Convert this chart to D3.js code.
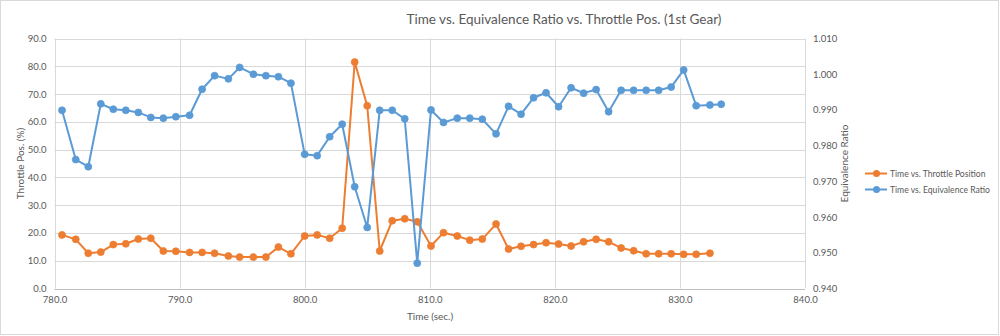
<!DOCTYPE html>
<html>
<head>
<meta charset="utf-8">
<script src="https://cdn.jsdelivr.net/npm/d3@7"></script>
<style>
  html, body { margin: 0; padding: 0; background: #fff; }
  svg { display: block; font-family: Lato, "Liberation Sans", sans-serif; }
</style>
</head>
<body>
<svg id="chart" width="1000" height="336"></svg>
<script>
// ---- data ----
const times = [780.6, 781.7, 782.7, 783.7, 784.7, 785.7, 786.7, 787.7, 788.7, 789.7,
  790.8, 791.8, 792.8, 793.9, 794.8, 795.9, 796.9, 797.9, 798.9, 800.0,
  801.0, 802.0, 803.0, 804.0, 805.0, 806.0, 807.0, 808.0, 809.0, 810.1,
  811.1, 812.2, 813.2, 814.2, 815.3, 816.3, 817.3, 818.3, 819.3, 820.3,
  821.3, 822.3, 823.3, 824.3, 825.3, 826.3, 827.3, 828.3, 829.3, 830.3,
  831.3, 832.4, 833.3];
const throttle = [19.3, 17.7, 12.7, 13.1, 15.8, 16.1, 17.8, 18.1, 13.5, 13.4,
  13.0, 13.0, 12.7, 11.7, 11.3, 11.3, 11.3, 14.9, 12.5, 18.9,
  19.3, 18.1, 21.7, 81.5, 65.8, 13.5, 24.4, 25.1, 24.0, 15.3,
  20.1, 18.9, 17.4, 17.8, 23.2, 14.2, 15.2, 15.8, 16.5, 16.0,
  15.3, 16.8, 17.7, 16.8, 14.6, 13.6, 12.5, 12.5, 12.5, 12.3,
  12.3, 12.7];
const equiv = [0.9899, 0.9761, 0.9741, 0.9917, 0.9902, 0.9899, 0.9893, 0.9879, 0.9877, 0.9881,
  0.9885, 0.9958, 0.9996, 0.9987, 1.0019, 1.0000, 0.9996, 0.9993, 0.9975, 0.9776,
  0.9772, 0.9825, 0.9860, 0.9685, 0.9571, 0.9899, 0.9899, 0.9875, 0.9471, 0.9900,
  0.9865, 0.9877, 0.9877, 0.9874, 0.9833, 0.9910, 0.9888, 0.9934, 0.9948, 0.9909,
  0.9962, 0.9947, 0.9957, 0.9895, 0.9955, 0.9955, 0.9955, 0.9955, 0.9964, 1.0012,
  0.9912, 0.9914, 0.9916];
const xTicks = [780, 790, 800, 810, 820, 830, 840];
const leftTicks = [0, 10, 20, 30, 40, 50, 60, 70, 80, 90];
const rightTicks = [0.94, 0.95, 0.96, 0.97, 0.98, 0.99, 1.00, 1.01];
const seriesNames = ["Time vs. Throttle Position", "Time vs. Equivalence Ratio"];
const colors = ["#ED7D31", "#5B9BD5"];

(function () {
// ---- layout ----
const svg = d3.select("#chart");
const W = 1000, H = 336;
const pL = 54.5, pR = 805, pT = 38.5, pB = 288.5;
const textColor = "#595959", gridColor = "#d9d9d9";

svg.append("rect").attr("x", 0.5).attr("y", 0.5).attr("width", W - 2).attr("height", H - 2)
  .attr("fill", "#fff").attr("stroke", gridColor);

const x = d3.scaleLinear().domain([780, 840]).range([pL, pR]);
const yL = d3.scaleLinear().domain([0, 90]).range([pB, pT]);
const yR = d3.scaleLinear().domain([0.94, 1.01]).range([pB, pT]);

// gridlines
svg.append("g").selectAll("line").data(leftTicks).join("line")
  .attr("x1", pL).attr("x2", pR)
  .attr("y1", d => Math.round(yL(d)) + 0.5).attr("y2", d => Math.round(yL(d)) + 0.5)
  .attr("stroke", gridColor);
svg.append("g").selectAll("line").data(xTicks).join("line")
  .attr("y1", pT).attr("y2", pB)
  .attr("x1", d => Math.round(x(d)) + 0.5).attr("x2", d => Math.round(x(d)) + 0.5)
  .attr("stroke", gridColor);
svg.append("line").attr("x1", pL).attr("x2", pR)
  .attr("y1", Math.round(pB) + 0.5).attr("y2", Math.round(pB) + 0.5).attr("stroke", "#bfbfbf");

// axes via d3 axis generators
const fs = "9.5px";
const gx = svg.append("g").attr("transform", `translate(0,${pB})`)
  .call(d3.axisBottom(x).tickValues(xTicks).tickFormat(d3.format(".1f")).tickSize(0).tickPadding(8));
const gl = svg.append("g").attr("transform", `translate(${pL},0)`)
  .call(d3.axisLeft(yL).tickValues(leftTicks).tickFormat(d3.format(".1f")).tickSize(0).tickPadding(8));
const gr = svg.append("g").attr("transform", `translate(${pR},0)`)
  .call(d3.axisRight(yR).tickValues(rightTicks).tickFormat(d3.format(".3f")).tickSize(0).tickPadding(8));
[gx, gl, gr].forEach(g => {
  g.select(".domain").remove();
  g.selectAll("text").attr("fill", textColor).style("font-size", fs).style("font-family", "Lato, sans-serif");
});

// titles
svg.append("text").attr("x", 564).attr("y", 24).attr("text-anchor", "middle")
  .attr("fill", textColor).style("font-size", "13.5px").text("Time vs. Equivalence Ratio vs. Throttle Pos. (1st Gear)");
svg.append("text").attr("x", 430).attr("y", 320).attr("text-anchor", "middle")
  .attr("fill", textColor).style("font-size", "10px").text("Time (sec.)");
svg.append("text").attr("transform", `translate(24,${(pT + pB) / 2}) rotate(-90)`).attr("text-anchor", "middle")
  .attr("fill", textColor).style("font-size", "10px").text("Throttle Pos. (%)");
svg.append("text").attr("transform", `translate(848,${(pT + pB) / 2}) rotate(-90)`).attr("text-anchor", "middle")
  .attr("fill", textColor).style("font-size", "10px").text("Equivalence Ratio");

// series
const tData = throttle.map((v, i) => ({ t: times[i], v }));
const eData = equiv.map((v, i) => ({ t: times[i], v }));

function drawSeries(data, yScale, color) {
  const g = svg.append("g");
  g.append("path").datum(data)
    .attr("fill", "none").attr("stroke", color).attr("stroke-width", 2).attr("stroke-linejoin", "round")
    .attr("d", d3.line().x(d => x(d.t)).y(d => yScale(d.v)));
  g.selectAll("circle").data(data).join("circle")
    .attr("cx", d => x(d.t)).attr("cy", d => yScale(d.v)).attr("r", 3.5)
    .attr("fill", color).attr("stroke", color).attr("stroke-width", 0.75);
}
drawSeries(tData, yL, colors[0]);
drawSeries(eData, yR, colors[1]);

// legend
const lg = svg.append("g");
seriesNames.forEach((name, i) => {
  const yy = 173.5 + i * 16;
  lg.append("line").attr("x1", 865).attr("x2", 887).attr("y1", yy).attr("y2", yy)
    .attr("stroke", colors[i]).attr("stroke-width", 2);
  lg.append("circle").attr("cx", 876.5).attr("cy", yy).attr("r", 3.5).attr("fill", colors[i]);
  lg.append("text").attr("x", 890).attr("y", yy).attr("dy", "0.35em")
    .attr("fill", textColor).style("font-size", "8.6px").text(name);
});
})();
</script>
</body>
</html>
